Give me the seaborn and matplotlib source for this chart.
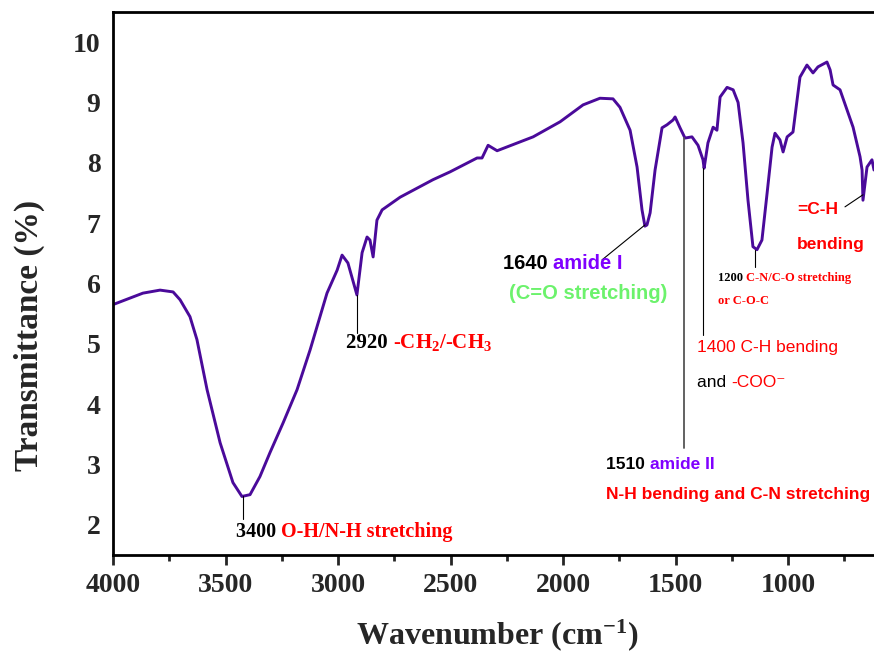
import matplotlib
matplotlib.use("Agg")
import matplotlib.pyplot as plt
from matplotlib.transforms import Affine2D
from matplotlib.ticker import MultipleLocator
import seaborn as sns
import pandas as pd

# FTIR spectrum
wavenumber = [4000, 3867, 3791, 3733, 3702, 3658, 3627, 3582, 3524, 3467, 3427, 3391,
              3347, 3302, 3244, 3182, 3124, 3049, 3004, 2982, 2956, 2916, 2893, 2871,
              2858, 2844, 2827, 2804, 2724, 2578, 2502, 2382, 2360, 2333, 2293, 2133,
              2013, 1911, 1836, 1778, 1747, 1702, 1671, 1649, 1636, 1627, 1613, 1591,
              1560, 1538, 1511, 1502, 1480, 1458, 1427, 1400, 1378, 1373, 1356, 1333,
              1316, 1302, 1271, 1244, 1222, 1200, 1178, 1156, 1138, 1116, 1093, 1071,
              1058, 1036, 1022, 1004, 978, 947, 916, 889, 867, 827, 813, 800, 769,
              711, 680, 671, 667, 649, 627, 618]
transmittance = [5.65, 5.84, 5.89, 5.86, 5.73, 5.45, 5.07, 4.24, 3.36, 2.70, 2.47, 2.50,
                 2.80, 3.20, 3.69, 4.24, 4.90, 5.84, 6.22, 6.47, 6.34, 5.81, 6.51, 6.77,
                 6.72, 6.44, 7.05, 7.22, 7.43, 7.72, 7.85, 8.08, 8.08, 8.29, 8.20, 8.43,
                 8.68, 8.96, 9.07, 9.06, 8.92, 8.54, 7.93, 7.22, 6.95, 6.97, 7.17, 7.88,
                 8.58, 8.63, 8.71, 8.76, 8.58, 8.41, 8.43, 8.29, 8.05, 7.91, 8.33, 8.59,
                 8.54, 9.09, 9.25, 9.21, 9.00, 8.33, 7.38, 6.61, 6.56, 6.72, 7.50, 8.26,
                 8.49, 8.38, 8.18, 8.43, 8.51, 9.42, 9.62, 9.49, 9.59, 9.67, 9.54, 9.29,
                 9.21, 8.59, 8.10, 7.88, 7.38, 7.93, 8.05, 7.88]

x_ticks = [4000, 3500, 3000, 2500, 2000, 1500, 1000]
y_ticks = [2, 3, 4, 5, 6, 7, 8, 9, 10]

RED = "#ff0000"
PURPLE = "#8000ff"
GREEN = "#6cf26c"

sns.set_style("white")
plt.rcParams["font.family"] = ["Liberation Serif", "DejaVu Serif"]
plt.rcParams["mathtext.fontset"] = "custom"
plt.rcParams["mathtext.rm"] = "Liberation Serif:bold"
plt.rcParams["mathtext.it"] = "Liberation Serif:bold"
plt.rcParams["mathtext.bf"] = "Liberation Serif:bold"

df = pd.DataFrame({"wavenumber": wavenumber, "transmittance": transmittance})

fig = plt.figure(figsize=(8.74, 6.54), dpi=100)
ax = fig.add_axes([0.1293, 0.1514, 0.8707, 0.8303])
sns.lineplot(data=df, x="wavenumber", y="transmittance", ax=ax,
             color="#4a0a9a", linewidth=2.1)

ax.set_xlim(4000, 618)
ax.set_ylim(1.5, 10.5)
ax.set_xticks(x_ticks)
ax.set_yticks(y_ticks)
ax.xaxis.set_minor_locator(MultipleLocator(250))
ax.tick_params(axis="x", which="major", direction="out", length=7, width=2, bottom=True, pad=6)
ax.tick_params(axis="x", which="minor", direction="out", length=4, width=2, bottom=True)
ax.tick_params(axis="y", length=0, pad=9)
ax.tick_params(labelsize=20)
for lab in ax.get_xticklabels() + ax.get_yticklabels():
    lab.set_fontweight("bold")
for s in ["left", "bottom", "top"]:
    ax.spines[s].set_linewidth(2)
    ax.spines[s].set_color("black")
ax.spines["right"].set_visible(False)

ax.set_xlabel("Wavenumber (cm$^{-\\mathbf{1}}$)", fontsize=23, fontweight="bold")
ax.set_ylabel("Transmittance (%)", fontsize=24, fontweight="bold")
ax.xaxis.set_label_coords(0.505, -0.114)
ax.yaxis.set_label_coords(-0.089, 0.405)

SERIF = ["Liberation Serif", "DejaVu Serif"]
SANS = ["Liberation Sans", "DejaVu Sans"]


def rich_text(x, y, parts, family, size):
    # draw a line of differently coloured pieces, each starting where the last ended
    first = ax.text(x, y, parts[0][0], color=parts[0][1], fontweight=parts[0][2],
                    family=family, fontsize=size, va="baseline", ha="left")
    prev = first
    for txt, col, wt in parts[1:]:
        def place(renderer, prev=prev):
            bb = prev.get_window_extent(renderer)
            yb = ax.transData.transform((x, y))[1]
            return Affine2D().translate(bb.x1, yb)
        prev = ax.annotate(txt, xy=(0, 0), xycoords=place, color=col, fontweight=wt,
                           family=family, fontsize=size, va="baseline", ha="left",
                           annotation_clip=False)
    return first


def pointer(x0, y0, x1, y1, color="black", lw=0.8):
    ax.plot([x0, x1], [y0, y1], color=color, linewidth=lw)


# 3400
pointer(3422, 2.47, 3422, 2.09)
rich_text(3453, 1.80, [("3400 ", "black", "bold"), ("O-H/N-H stretching", RED, "bold")], SERIF, 14.5)
# 2920
pointer(2916, 5.81, 2916, 5.18)
rich_text(2964, 4.93, [("2920 ", "black", "bold"), ("-CH$_2$/-CH$_3$", RED, "bold")], SERIF, 15)
# 1640
pointer(1827, 6.39, 1636, 6.97)
rich_text(2267, 6.24, [("1640 ", "black", "bold"), ("amide I", PURPLE, "bold")], SANS, 14.5)
rich_text(2240, 5.75, [("(C=O stretching)", GREEN, "bold")], SANS, 14.5)
# 1510
pointer(1462, 8.41, 1462, 3.28, color="#555555", lw=1.3)
rich_text(1809, 2.93, [("1510 ", "black", "bold"), ("amide II", PURPLE, "bold")], SANS, 12.5)
rich_text(1809, 2.42, [("N-H bending and C-N stretching", RED, "bold")], SANS, 12.5)
# 1400
pointer(1378, 7.91, 1378, 5.15)
rich_text(1404, 4.87, [("1400 C-H bending", RED, "normal")], SANS, 12.5)
rich_text(1404, 4.29, [("and ", "black", "normal"), ("-COO\u207b", RED, "normal")], SANS, 12.5)
# 1200
pointer(1147, 6.56, 1147, 6.27)
rich_text(1311, 6.04, [("1200 ", "black", "bold"), ("C-N/C-O stretching", RED, "bold")], SERIF, 9)
rich_text(1311, 5.66, [("or C-O-C", RED, "bold")], SERIF, 9)
# =C-H
pointer(747, 7.27, 667, 7.47)
rich_text(960, 7.15, [("=C-H", RED, "bold")], SANS, 12.5)
rich_text(960, 6.57, [("bending", RED, "bold")], SANS, 12.5)

fig.savefig("out.png", dpi=100)
